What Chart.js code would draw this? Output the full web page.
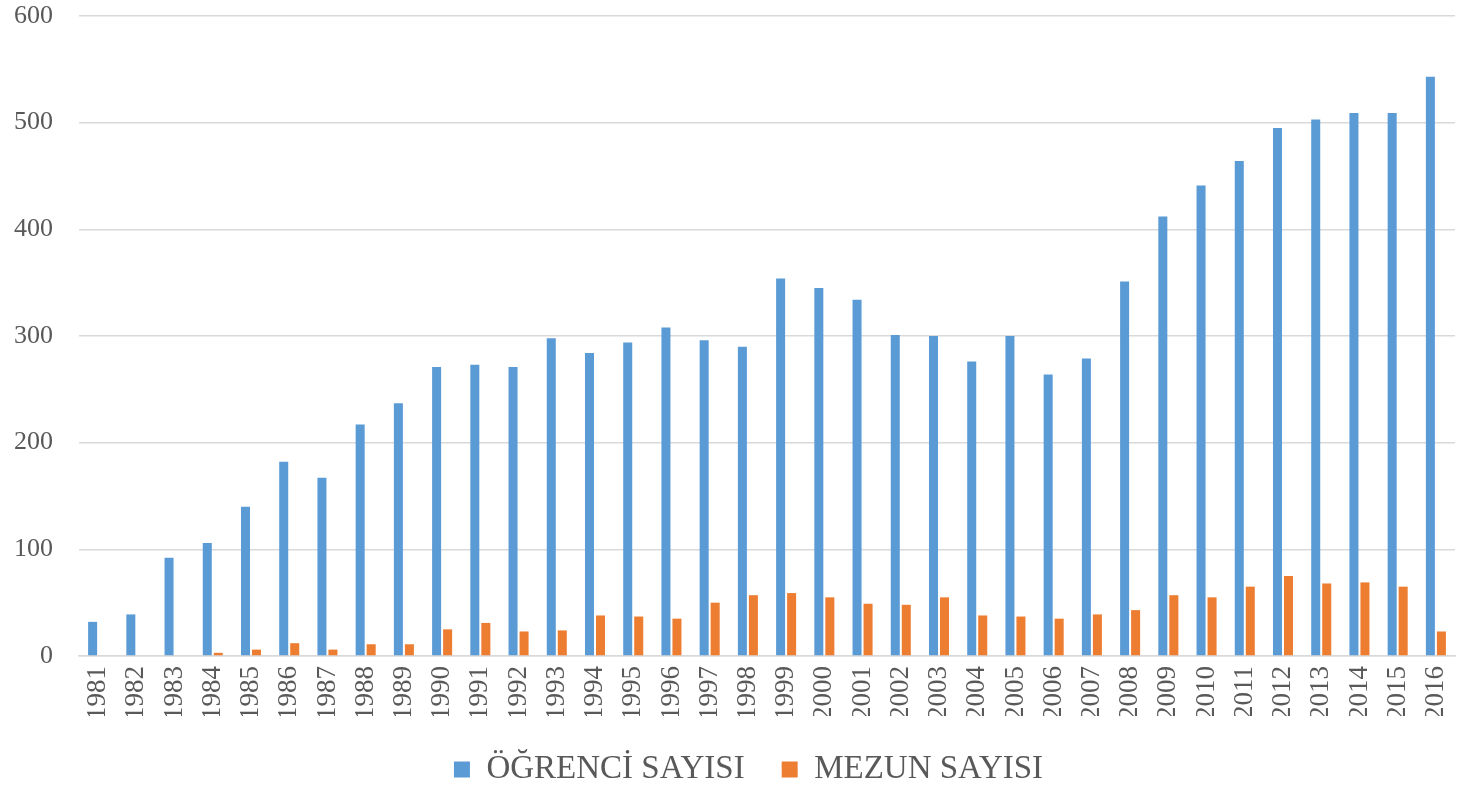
<!DOCTYPE html>
<html>
<head>
<meta charset="utf-8">
<script src="https://cdn.jsdelivr.net/npm/chart.js@4.4.0/dist/chart.umd.min.js"></script>
<style>
  html, body { margin: 0; padding: 0; background: #fff; }
  #wrap { width: 1481px; height: 788px; }
</style>
</head>
<body>
<div id="wrap"><canvas id="ogrenciChart" width="1481" height="788"></canvas></div>
<script>
var years = ["1981","1982","1983","1984","1985","1986","1987","1988","1989","1990",
  "1991","1992","1993","1994","1995","1996","1997","1998","1999","2000",
  "2001","2002","2003","2004","2005","2006","2007","2008","2009","2010",
  "2011","2012","2013","2014","2015","2016"];
var ogrenciSayisi = [32,39,92,106,140,182,167,217,237,271,
  273,271,298,284,294,308,296,290,354,345,
  334,301,300,276,300,264,279,351,412,441,
  464,495,503,509,509,543];
var mezunSayisi = [0,0,0,3,6,12,6,11,11,25,
  31,23,24,38,37,35,50,57,59,55,
  49,48,55,38,37,35,39,43,57,55,
  65,75,68,69,65,23];
var yTicks = [0,100,200,300,400,500,600];

var textColor = "#595959";
var fontFamily = "'Liberation Serif', 'DejaVu Serif', serif";

// legend is centred on the whole canvas in the original, not on the padded area
var legendShift = {
  id: "legendShift",
  afterLayout: function(chart) {
    if (chart.legend) { chart.legend.left += 42; }
  }
};

var ctx = document.getElementById("ogrenciChart");
var chart = new Chart(ctx, {
  type: "bar",
  data: {
    labels: years,
    datasets: [{
      label: "ÖĞRENCİ SAYISI",
      data: ogrenciSayisi,
      backgroundColor: "#5B9BD5",
      borderWidth: 0
    }, {
      label: "MEZUN SAYISI",
      data: mezunSayisi,
      backgroundColor: "#ED7D31",
      borderWidth: 0
    }]
  },
  plugins: [legendShift],
  options: {
    responsive: false,
    animation: false,
    layout: { padding: { left: 0, right: 26, top: 16, bottom: 0 } },
    datasets: { bar: { categoryPercentage: 0.576, barPercentage: 0.82 } },
    plugins: {
      tooltip: { enabled: false },
      legend: {
        position: "bottom",
        maxHeight: 72,
        labels: {
          color: textColor,
          font: { family: fontFamily, size: 33 },
          boxWidth: 16,
          boxHeight: 16,
          padding: 37
        }
      }
    },
    scales: {
      x: {
        grid: { display: false },
        border: { color: "#d9d9d9", width: 1.5 },
        ticks: {
          color: textColor,
          font: { family: fontFamily, size: 27 },
          maxRotation: 90,
          minRotation: 90,
          autoSkip: false,
          padding: 2
        },
        afterFit: function(scale) { scale.height = 60; }
      },
      y: {
        min: 0,
        max: 600,
        afterBuildTicks: function(scale) {
          scale.ticks = yTicks.map(function(v) { return { value: v }; });
        },
        grid: { color: "#d9d9d9", lineWidth: 1.5, drawTicks: false },
        border: { display: false },
        ticks: {
          color: textColor,
          font: { family: fontFamily, size: 26 },
          padding: 26
        },
        // keep tick padding for the label gap but not for the top/bottom space
        afterFit: function(scale) {
          scale.width = 79;
          scale.paddingTop = 0;
          scale.paddingBottom = 0;
        }
      }
    }
  }
});
</script>
</body>
</html>
